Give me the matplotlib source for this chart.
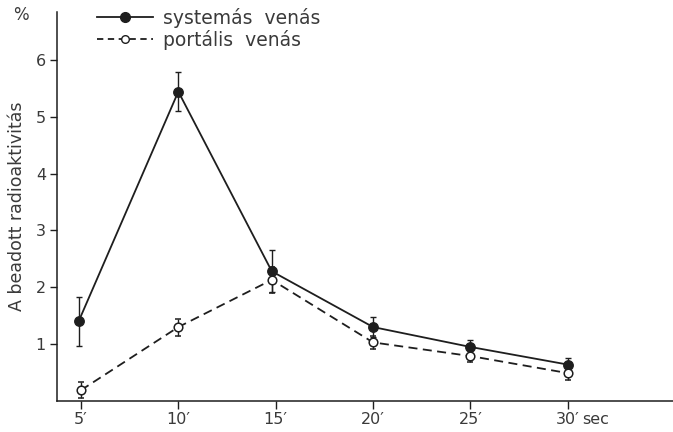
import numpy as np
import matplotlib
matplotlib.use("Agg")
import matplotlib.pyplot as plt
from matplotlib.lines import Line2D

# values
sys_t = [4.88, 10, 14.8, 20, 25, 30]
sys_val = [1.40, 5.44, 2.28, 1.30, 0.95, 0.64]
sys_sd = [0.43, 0.34, 0.37, 0.18, 0.12, 0.12]

por_t = [5, 10, 14.8, 20, 25, 30]
por_val = [0.19, 1.30, 2.13, 1.03, 0.79, 0.49]
por_sd = [0.14, 0.15, 0.23, 0.12, 0.11, 0.12]

x_ticks = [5, 10, 15, 20, 25, 30]
x_labels = ["5\u2032", "10\u2032", "15\u2032", "20\u2032", "25\u2032", "30\u2032"]
y_ticks = [1, 2, 3, 4, 5, 6]

ink = "#1e1e1e"
txt = "#3a3a3a"

plt.rcParams.update({"font.family": "DejaVu Sans", "font.size": 11})

fig = plt.figure(figsize=(6.73, 4.32), dpi=100)
ax = fig.add_axes([0.0847, 0.0718, 0.9153, 0.9004])

ax.errorbar(sys_t, sys_val, yerr=sys_sd, color=ink, lw=1.3, marker="o", ms=6.8,
            mfc=ink, mec=ink, capsize=2.5, elinewidth=1.0, capthick=1.0, zorder=3)
ax.errorbar(por_t, por_val, yerr=por_sd, color=ink, lw=1.3, ls=(0, (5, 3)), marker="o",
            ms=6.2, mfc="white", mec=ink, mew=1.1, capsize=2.5, elinewidth=1.0,
            capthick=1.0, zorder=4)

ax.set_xlim(3.77, 35.4)
ax.set_ylim(0, 6.84)
ax.set_xticks(x_ticks)
ax.set_xticklabels(x_labels, color=txt, fontsize=11.5)
ax.set_yticks(y_ticks)
ax.set_yticklabels([str(v) for v in y_ticks], color=txt, fontsize=11.5)
ax.tick_params(axis="x", direction="out", length=6, width=1.0, color=ink, pad=2)
ax.tick_params(axis="y", direction="out", length=5, width=1.0, color=ink, pad=3)

for s in ("top", "right"):
    ax.spines[s].set_visible(False)
for s in ("left", "bottom"):
    ax.spines[s].set_color(ink)
    ax.spines[s].set_linewidth(1.1)

ax.set_ylabel("A beadott radioaktivitás", color=txt, fontsize=12.5, labelpad=7)
fig.text(0.019, 0.965, "%", color=txt, fontsize=12, ha="left", va="center")
ax.text(30.75, -0.2, "sec", color=txt, fontsize=11.5, ha="left", va="top")

handles = [
    Line2D([0], [0], color=ink, lw=1.3, marker="o", ms=7, mfc=ink, mec=ink,
           markevery=[0, 1]),
    Line2D([0], [0], color=ink, lw=1.3, ls=(0, (3.5, 2.5)), marker="o", ms=5.5,
           mfc="white", mec=ink, markevery=[0, 1]),
]
leg = fig.legend(handles, ["systemás  venás", "portális  venás"],
                 loc="upper left", bbox_to_anchor=(0.144, 0.982), frameon=False,
                 borderpad=0, borderaxespad=0,
                 handlelength=3.0, handletextpad=0.55, labelspacing=0.1,
                 fontsize=13.5)
for t in leg.get_texts():
    t.set_color(txt)

fig.savefig("out.png", dpi=100)
